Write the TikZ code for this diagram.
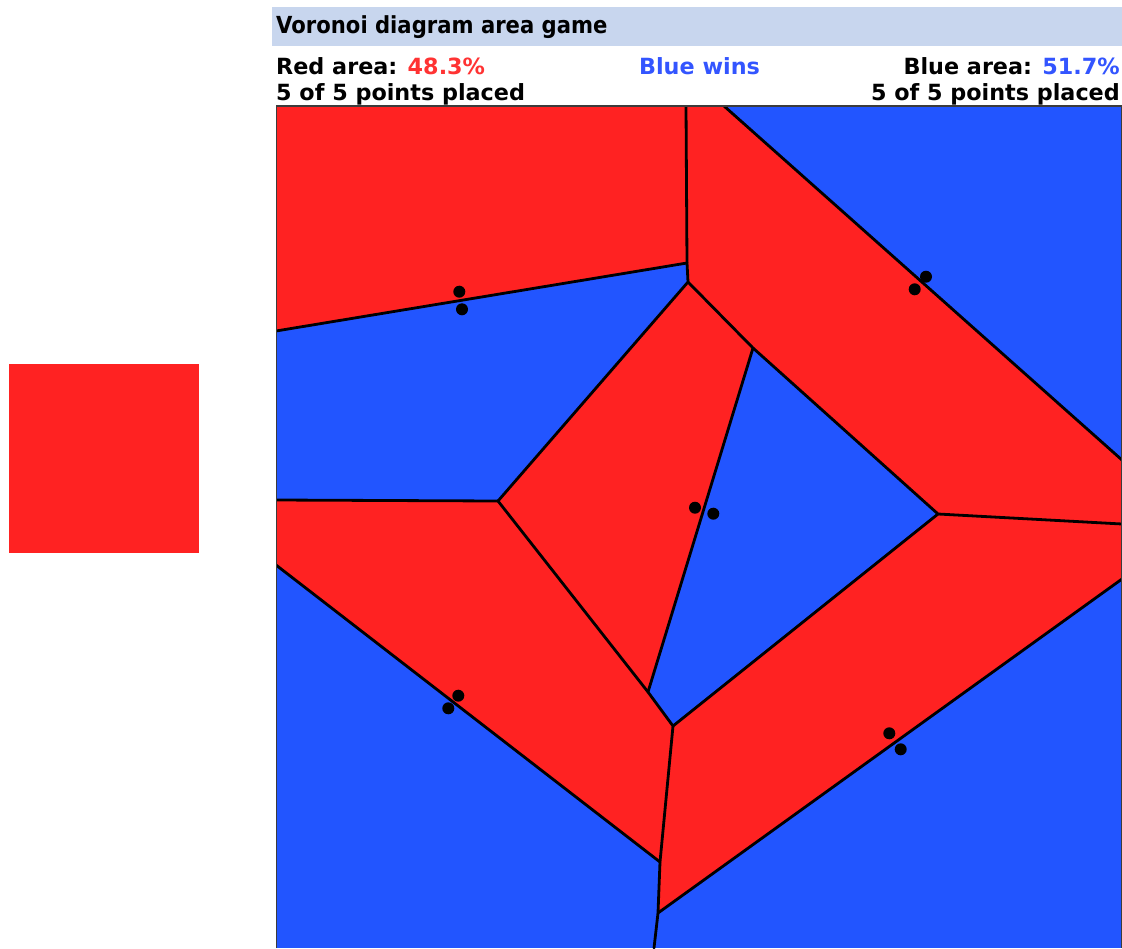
\documentclass[tikz,border=0pt]{standalone}
\usepackage{fontspec}
\setmainfont{DejaVu Sans}
\newfontfamily\titlefont{DejaVu Sans}[FakeStretch=0.9]
\definecolor{cellred}{RGB}{255,34,34}
\definecolor{cellblue}{RGB}{34,85,255}
\definecolor{txtred}{RGB}{255,51,51}
\definecolor{txtblue}{RGB}{51,85,255}
\definecolor{headbg}{RGB}{200,214,238}
\definecolor{frame}{RGB}{60,60,60}
\tikzset{
  edge/.style={line width=2.8pt, line join=round, line cap=round},
  dot/.style={fill=black},
  rowtext/.style={inner sep=0pt, font=\fontsize{22.3}{27}\selectfont\bfseries},
}
\begin{document}
\begin{tikzpicture}[x=1pt,y=-1pt]
\useasboundingbox (0,0) rectangle (1122,948);
% header
\fill[headbg] (272,7) rectangle (1122,46);
\node[inner sep=0pt, anchor=base west, font=\titlefont\fontsize{23.5}{28}\selectfont\bfseries] (title) at (276,33.3) {Voronoi diagram area game};
\node[rowtext, anchor=base west] (redarea) at (276,74) {Red area: \textcolor{txtred}{48.3\%}};
\node[rowtext, anchor=base west] (redpts) at (276,100) {5 of 5 points placed};
\node[rowtext, anchor=base, text=txtblue] (wins) at (699.5,74) {Blue wins};
\node[rowtext, anchor=base east] (bluearea) at (1120,74) {Blue area: \textcolor{txtblue}{51.7\%}};
\node[rowtext, anchor=base east] (bluepts) at (1120,100) {5 of 5 points placed};
% left swatch
\fill[cellred] (9,364) rectangle (199,553);
% vertices
\coordinate (A) at (686,106);
\coordinate (T) at (724,106);
\coordinate (B) at (687,263);
\coordinate (C) at (688,282);
\coordinate (D) at (498,501);
\coordinate (E) at (753,348);
\coordinate (G) at (648,692);
\coordinate (F) at (673,726);
\coordinate (H) at (938,514);
\coordinate (I) at (660,862);
\coordinate (J) at (658,913);
\coordinate (K) at (654,948);
\coordinate (L1) at (276,331);
\coordinate (L2) at (276,500);
\coordinate (L3) at (276,565);
\coordinate (R1) at (1122,460);
\coordinate (R2) at (1122,524);
\coordinate (R3) at (1122,579);
\coordinate (TL) at (276,106);
\coordinate (TR) at (1122,106);
\coordinate (BL) at (276,948);
\coordinate (BR) at (1122,948);
% cells
\fill[cellblue] (TL) rectangle (BR);
\fill[cellred] (TL) -- (A) -- (B) -- (L1) -- cycle;
\fill[cellred] (A) -- (T) -- (R1) -- (R2) -- (H) -- (E) -- (C) -- (B) -- cycle;
\fill[cellred] (C) -- (E) -- (G) -- (D) -- cycle;
\fill[cellred] (L2) -- (D) -- (G) -- (F) -- (I) -- (L3) -- cycle;
\fill[cellred] (F) -- (H) -- (R2) -- (R3) -- (J) -- (I) -- cycle;
% edges
\begin{scope}
\clip (TL) rectangle (BR);
\draw[edge] (A) -- (B) -- (C) -- (D) -- (G) -- (F) -- (I) -- (J) -- (K);
\draw[edge] (L1) -- (B);
\draw[edge] (L2) -- (D);
\draw[edge] (C) -- (E) -- (H) -- (R2);
\draw[edge] (E) -- (G);
\draw[edge] (F) -- (H);
\draw[edge] (T) -- (R1);
\draw[edge] (L3) -- (I);
\draw[edge] (J) -- (R3);
\end{scope}
% frame
\draw[frame, line width=1.5pt] (276.5,948) -- (276.5,105.8) -- (1121.3,105.8) -- (1121.3,948);
% points
\foreach \p/\q in {459.3/291.7, 462/309.3, 926/276.7, 914.7/289.3, 695/507.7, 713.3/513.7, 458.3/695.7, 448.3/708.3, 889.3/733.3, 900.7/749.3}
  \fill[dot] (\p,\q) circle[radius=6];
\end{tikzpicture}
\end{document}
